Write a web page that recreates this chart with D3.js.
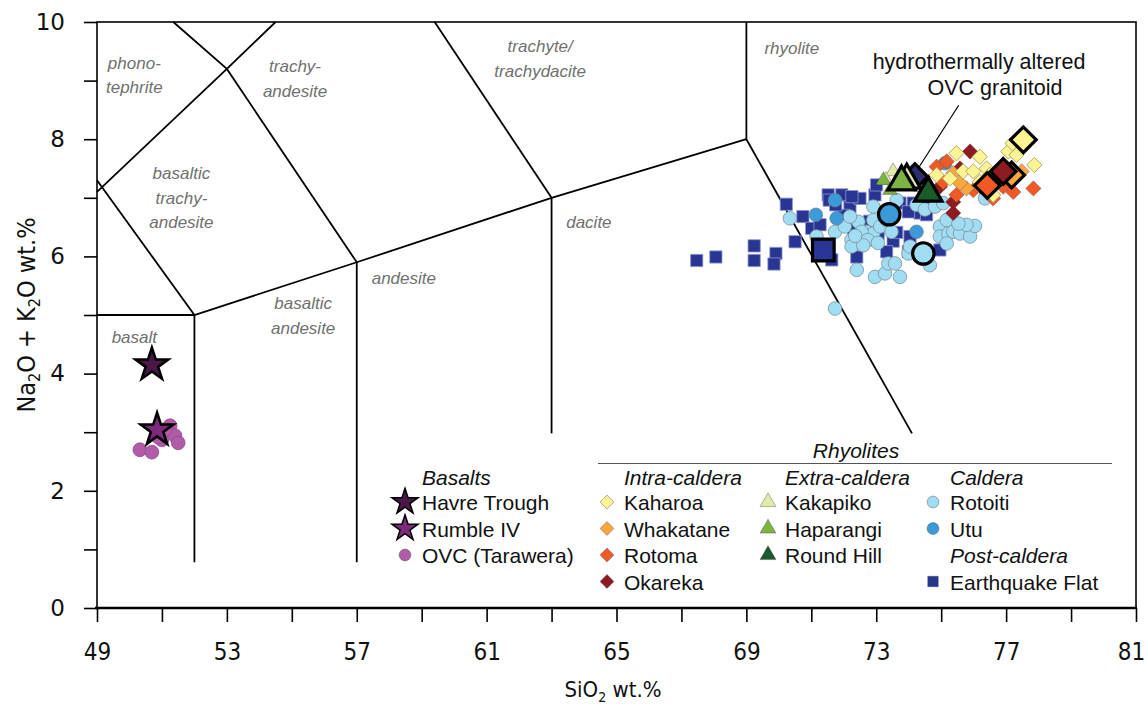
<!DOCTYPE html>
<html>
<head>
	<meta charset="utf-8">
	<title>TAS diagram</title>
	<style>
		html, body { margin: 0; background: #fff; }
		svg { display: block; font-family: "Liberation Sans", Arial, sans-serif; }
		.field { fill: #707070; font-style: italic; font-size: 17px; }
		.tick line { stroke: #000; stroke-width: 1.6; }
		.domain { display: none; }
		.x-axis text { font-family: "DejaVu Sans Condensed", "Liberation Sans Narrow", sans-serif; font-size: 24px; fill: #111; }
		.y-axis text { font-family: "DejaVu Sans", sans-serif; font-size: 23px; fill: #111; }
		.legend text { font-size: 21px; fill: #111; }
		.legend .head { font-style: italic; }
	</style>
</head>
<body>
<svg id="chart" width="1148" height="704"></svg>

<script src="https://d3js.org/d3.v7.min.js"></script>
<script>
	// axis ticks
	const xTicks = d3.range(49, 82, 2);
	const xLabels = [49, 53, 57, 61, 65, 69, 73, 77, 81];
	const yTicks = d3.range(0, 11, 1);
	const yLabels = [0, 2, 4, 6, 8, 10];

	// TAS field boundaries (SiO2, Na2O+K2O)
	const boundaries = [
		[[49, 5], [52, 5], [57, 5.9], [63, 7], [69, 8]],
		[[52, 0.78], [52, 5]],
		[[57, 0.78], [57, 5.9]],
		[[63, 2.98], [63, 7]],
		[[69, 8], [69, 10]],
		[[69, 8], [74.1, 2.98]],
		[[49, 7.3], [52, 5]],
		[[49, 7.1], [53, 9.2], [54.5, 10]],
		[[51.35, 10], [53, 9.2], [57, 5.9]],
		[[59.4, 10], [63, 7]]
	];

	const fieldLabels = [
		{ lines: ["phono-", "tephrite"], x: 50.15, y: 9.2 },
		{ lines: ["trachy-", "andesite"], x: 55.1, y: 9.14 },
		{ lines: ["trachyte/", "trachydacite"], x: 62.65, y: 9.48 },
		{ lines: ["rhyolite"], x: 70.4, y: 9.45 },
		{ lines: ["basaltic", "trachy-", "andesite"], x: 51.6, y: 7.32 },
		{ lines: ["dacite"], x: 64.15, y: 6.48 },
		{ lines: ["andesite"], x: 58.45, y: 5.53 },
		{ lines: ["basaltic", "andesite"], x: 55.35, y: 5.1 },
		{ lines: ["basalt"], x: 50.15, y: 4.52 }
	];

	// Basalts
	const havreTrough = [[50.69, 4.15]];
	const rumbleIV = [[50.85, 3.04]];
	const ovcTarawera = [[50.32, 2.70], [50.69, 2.66], [51.0, 2.87], [51.25, 3.11], [51.4, 2.94],
		[51.5, 2.82], [51.1, 3.04], [50.88, 2.92]];

	// Rhyolites, post-caldera
	const earthquakeFlat = [[67.47, 5.93], [68.06, 5.99], [69.24, 6.18], [69.24, 5.93], [69.91, 6.05],
		[69.85, 5.87], [70.50, 6.25], [70.23, 6.89], [70.74, 6.68], [71.01, 6.48], [71.27, 6.54],
		[71.63, 5.94], [71.52, 7.05], [71.94, 7.05], [71.55, 6.96], [72.19, 6.85], [72.50, 6.99],
		[72.40, 5.99], [72.96, 7.05], [73.01, 7.22], [73.06, 6.39], [72.70, 6.28], [73.52, 6.26],
		[73.32, 6.08], [73.63, 6.41], [74.04, 6.34], [73.99, 6.08], [74.35, 6.74], [74.55, 6.71],
		[74.50, 6.99], [74.14, 6.91], [73.73, 6.91], [73.99, 6.76], [74.96, 6.11], [72.0, 6.7],
		[72.8, 6.6], [72.3, 6.45], [73.3, 6.6], [72.25, 7.02], [71.75, 6.88]];

	// Rhyolites, caldera
	const rotoiti = [[70.34, 6.65], [71.73, 5.11], [71.16, 6.34], [71.73, 6.42], [72.03, 6.51],
		[72.24, 6.28], [72.45, 6.59], [72.70, 6.42], [72.91, 6.85], [72.91, 6.62], [72.91, 6.39],
		[73.12, 6.51], [72.24, 6.17], [72.40, 5.77], [72.96, 5.65], [73.27, 5.71], [73.73, 5.65],
		[73.37, 5.88], [73.58, 5.88], [73.99, 6.05], [74.04, 6.17], [73.63, 6.96], [74.24, 6.88],
		[74.50, 6.80], [74.81, 6.85], [74.96, 6.51], [75.17, 6.62], [74.96, 6.34], [75.22, 6.39],
		[75.37, 6.42], [75.58, 6.39], [75.89, 6.34], [76.04, 6.52], [75.78, 6.54], [75.53, 6.56],
		[75.17, 6.22], [74.65, 5.85], [74.55, 5.99], [73.32, 6.62], [73.47, 6.42], [72.55, 6.42],
		[72.19, 6.68], [75.06, 6.91], [76.35, 6.99], [72.74, 6.28], [73.05, 6.23], [72.6, 6.19],
		[72.35, 6.35]];
	const utu = [[71.14, 6.71], [71.73, 6.96], [71.78, 6.65], [74.24, 6.42], [75.12, 7.59]];

	// Rhyolites, intra-caldera
	const kaharoa = [[75.47, 7.76], [76.19, 7.70], [75.27, 7.33], [75.68, 7.45], [75.99, 7.45],
		[76.40, 7.50], [77.07, 7.79], [77.20, 7.93], [77.32, 7.73], [77.87, 7.56], [76.60, 7.05],
		[74.86, 7.39], [76.19, 7.27], [76.5, 7.39]];
	const whakatane = [[75.37, 7.42], [75.78, 7.16], [77.48, 7.45], [75.58, 7.25], [76.19, 7.19],
		[76.81, 7.29]];
	const rotoma = [[74.86, 7.53], [75.06, 7.27], [77.84, 7.16], [77.22, 7.10], [76.60, 6.99],
		[75.47, 7.05], [76.91, 7.19], [75.99, 7.13], [75.17, 7.62]];
	const okareka = [[75.89, 7.79], [75.37, 6.93], [74.96, 7.19], [75.37, 6.74], [77.32, 7.39],
		[75.58, 7.50]];

	// Rhyolites, extra-caldera
	const kakapiko = [[73.52, 7.45], [73.3, 7.3]];
	const haparangi = [[73.22, 7.30], [73.42, 7.13]];

	// highlighted samples (large outlined symbols)
	const highlighted = [
		{ key: "earthquakeFlat", p: [71.37, 6.11] },
		{ key: "rotoiti", p: [74.45, 6.05] },
		{ key: "utu", p: [73.40, 6.72] },
		{ key: "rotoma", p: [76.42, 7.21] },
		{ key: "whakatane", p: [77.17, 7.39] },
		{ key: "okareka", p: [76.91, 7.45] },
		{ key: "kaharoa", p: [77.53, 7.99] },
		{ key: "granitoid", p: [74.19, 7.36] },
		{ key: "kakapiko", p: [73.94, 7.30] },
		{ key: "haparangi", p: [73.78, 7.27] },
		{ key: "roundHill", p: [74.60, 7.08] }
	];

	const annotationLine = [[75.54, 8.58], [74.29, 7.50]];

	const styles = {
		havre: { shape: "star", fill: "#4a1748" },
		rumble: { shape: "star", fill: "#7b2a7c" },
		ovc: { shape: "circle", fill: "#b25ba8" },
		kaharoa: { shape: "diamond", fill: "#fcf393" },
		whakatane: { shape: "diamond", fill: "#f9a73e" },
		rotoma: { shape: "diamond", fill: "#f15a27" },
		okareka: { shape: "diamond", fill: "#8e1b1f" },
		kakapiko: { shape: "triangle", fill: "#e3e9a9" },
		haparangi: { shape: "triangle", fill: "#7cb342" },
		roundHill: { shape: "triangle", fill: "#1b5a2a" },
		rotoiti: { shape: "circle", fill: "#a0dcf2" },
		utu: { shape: "circle", fill: "#3a9bd8" },
		earthquakeFlat: { shape: "square", fill: "#283593" },
		granitoid: { shape: "diamond", fill: "#2b2d6e" }
	};

	const legendGroups = [
		{ title: "Basalts", x: 405, items: [["Havre Trough", "havre"], ["Rumble IV", "rumble"], ["OVC (Tarawera)", "ovc"]] },
		{ title: "Intra-caldera", x: 607, items: [["Kaharoa", "kaharoa"], ["Whakatane", "whakatane"], ["Rotoma", "rotoma"], ["Okareka", "okareka"]] },
		{ title: "Extra-caldera", x: 768, items: [["Kakapiko", "kakapiko"], ["Haparangi", "haparangi"], ["Round Hill", "roundHill"]] },
		{ title: "Caldera", x: 933, items: [["Rotoiti", "rotoiti"], ["Utu", "utu"], ["Post-caldera", null], ["Earthquake Flat", "earthquakeFlat"]] }
	];

	let svg = d3.select("#chart");

	let x = d3.scaleLinear().domain([49, 81]).range([97, 1136]);
	let y = d3.scaleLinear().domain([0, 10]).range([608, 22]);

	function symbolPath(shape, size)
	{
		let type = {
			square: d3.symbolSquare, diamond: d3.symbolSquare, circle: d3.symbolCircle,
			triangle: d3.symbolTriangle, star: d3.symbolStar
		}[shape];
		return d3.symbol().type(type).size(size)();
	}

	function drawMarks(g, data, key, opts)
	{
		let st = styles[key];
		let sizes = { square: 150, diamond: 118, circle: 145, triangle: 95, star: 120 };
		let size = opts.size || sizes[st.shape];
		g.selectAll(null)
			.data(data)
			.enter()
			.append("path")
			.attr("d", symbolPath(st.shape, size))
			.attr("transform", d => "translate(" + x(d[0]) + "," + y(d[1]) + ")" + (st.shape == "diamond" ? " rotate(45)" : ""))
			.attr("fill", st.fill)
			.attr("stroke", opts.stroke || "rgba(70,70,90,0.45)")
			.attr("stroke-width", opts.strokeWidth || 0.8)
			.attr("stroke-linejoin", "miter");
	}

	// field boundaries
	let line = d3.line().x(d => x(d[0])).y(d => y(d[1]));
	svg.append("g")
		.selectAll("path")
		.data(boundaries)
		.enter()
		.append("path")
		.attr("d", line)
		.attr("fill", "none")
		.attr("stroke", "#000")
		.attr("stroke-width", 1.8);

	// field names
	let fields = svg.append("g").attr("class", "field").attr("text-anchor", "middle");
	fieldLabels.forEach(f =>
	{
		let t = fields.append("text").attr("x", x(f.x)).attr("y", y(f.y));
		f.lines.forEach((s, i) => t.append("tspan").attr("x", x(f.x)).attr("dy", i == 0 ? 0 : 24.5).text(s));
	});

	// axes
	let xAxis = svg.append("g")
		.attr("class", "x-axis")
		.attr("transform", "translate(0," + y(0) + ")")
		.call(d3.axisBottom(x).tickValues(xTicks).tickSize(14).tickFormat(d => xLabels.includes(d) ? d : ""));
	xAxis.selectAll("text").attr("y", 35);
	xAxis.selectAll("text").filter(d => d == 81).attr("dx", -5);

	svg.append("g")
		.attr("class", "y-axis")
		.attr("transform", "translate(" + x(49) + ",0)")
		.call(d3.axisLeft(y).tickValues(yTicks).tickSize(13).tickPadding(19).tickFormat(d => yLabels.includes(d) ? d : ""));

	// frame
	svg.append("rect")
		.attr("x", x(49)).attr("y", y(10))
		.attr("width", x(81) - x(49)).attr("height", y(0) - y(10))
		.attr("fill", "none").attr("stroke", "#000").attr("stroke-width", 1.6);
	svg.append("line")
		.attr("x1", x(49) - 2).attr("x2", x(81) + 1).attr("y1", y(0)).attr("y2", y(0))
		.attr("stroke", "#000").attr("stroke-width", 2.4);

	// axis titles
	let xt = svg.append("text")
		.attr("x", 613).attr("y", 697).attr("text-anchor", "middle")
		.style("font-family", "'DejaVu Sans Condensed', 'Liberation Sans Narrow', sans-serif")
		.style("font-size", "22px").attr("fill", "#111");
	xt.append("tspan").text("SiO");
	xt.append("tspan").attr("dy", 5).style("font-size", "14px").text("2");
	xt.append("tspan").attr("dy", -5).text(" wt.%");

	let yt = svg.append("text")
		.attr("transform", "translate(35,315) rotate(-90)")
		.attr("text-anchor", "middle")
		.style("font-family", "'DejaVu Sans Condensed', 'Liberation Sans', sans-serif")
		.style("font-size", "25px").attr("fill", "#111");
	yt.append("tspan").text("Na");
	yt.append("tspan").attr("dy", 5).style("font-size", "16px").text("2");
	yt.append("tspan").attr("dy", -5).text("O + K");
	yt.append("tspan").attr("dy", 5).style("font-size", "16px").text("2");
	yt.append("tspan").attr("dy", -5).text("O wt.%");

	// data
	let marks = svg.append("g");
	drawMarks(marks, earthquakeFlat, "earthquakeFlat", { stroke: "#8f97d0" });
	drawMarks(marks, rotoiti, "rotoiti", { stroke: "#7d8f99" });
	drawMarks(marks, utu, "utu", { stroke: "#6a8190" });
	drawMarks(marks, okareka, "okareka", {});
	drawMarks(marks, rotoma, "rotoma", {});
	drawMarks(marks, whakatane, "whakatane", {});
	drawMarks(marks, kaharoa, "kaharoa", { stroke: "#a89f60" });
	drawMarks(marks, kakapiko, "kakapiko", { stroke: "#9a9a70" });
	drawMarks(marks, haparangi, "haparangi", {});
	drawMarks(marks, ovcTarawera, "ovc", { size: 150, stroke: "#8a4f86" });

	let bigSizes = { square: 470, diamond: 330, circle: 360, triangle: 330 };
	highlighted.forEach(h =>
	{
		drawMarks(marks, [h.p], h.key, { size: bigSizes[styles[h.key].shape], stroke: "#000", strokeWidth: 3.2 });
	});

	drawMarks(marks, havreTrough, "havre", { size: 330, stroke: "#000", strokeWidth: 2.6 });
	drawMarks(marks, rumbleIV, "rumble", { size: 330, stroke: "#000", strokeWidth: 2.6 });

	// annotation
	svg.append("path")
		.attr("d", line(annotationLine))
		.attr("stroke", "#000").attr("stroke-width", 1.2).attr("fill", "none");
	svg.append("text").attr("x", 979).attr("y", 69).attr("text-anchor", "middle")
		.style("font-size", "21.5px").attr("fill", "#111").text("hydrothermally altered");
	svg.append("text").attr("x", 995).attr("y", 95).attr("text-anchor", "middle")
		.style("font-size", "21.5px").attr("fill", "#111").text("OVC granitoid");

	// legend
	let legend = svg.append("g").attr("class", "legend");
	legend.append("text").attr("class", "head").attr("x", 856).attr("y", 458).attr("text-anchor", "middle").text("Rhyolites");
	legend.append("line").attr("x1", 598).attr("x2", 1112).attr("y1", 463.5).attr("y2", 463.5)
		.attr("stroke", "#555").attr("stroke-width", 1.2);

	let legendSizes = { square: 110, diamond: 95, circle: 110, triangle: 110, star: 210 };
	legendGroups.forEach(grp =>
	{
		legend.append("text").attr("class", "head").attr("x", grp.x + 17).attr("y", 485).text(grp.title);
		grp.items.forEach((it, i) =>
		{
			let by = 510 + i * 26.5;
			let t = legend.append("text").attr("x", grp.x + 17).attr("y", by).text(it[0]);
			if (!it[1])
			{
				t.attr("class", "head");
				return;
			}
			let st = styles[it[1]];
			legend.append("path")
				.attr("d", symbolPath(st.shape, legendSizes[st.shape]))
				.attr("transform", "translate(" + grp.x + "," + (by - 8) + ")" + (st.shape == "diamond" ? " rotate(45)" : ""))
				.attr("fill", st.fill)
				.attr("stroke", st.shape == "star" ? "#000" : "rgba(70,70,90,0.5)")
				.attr("stroke-width", st.shape == "star" ? 1.5 : 0.8);
		});
	});
</script>
</body>
</html>
